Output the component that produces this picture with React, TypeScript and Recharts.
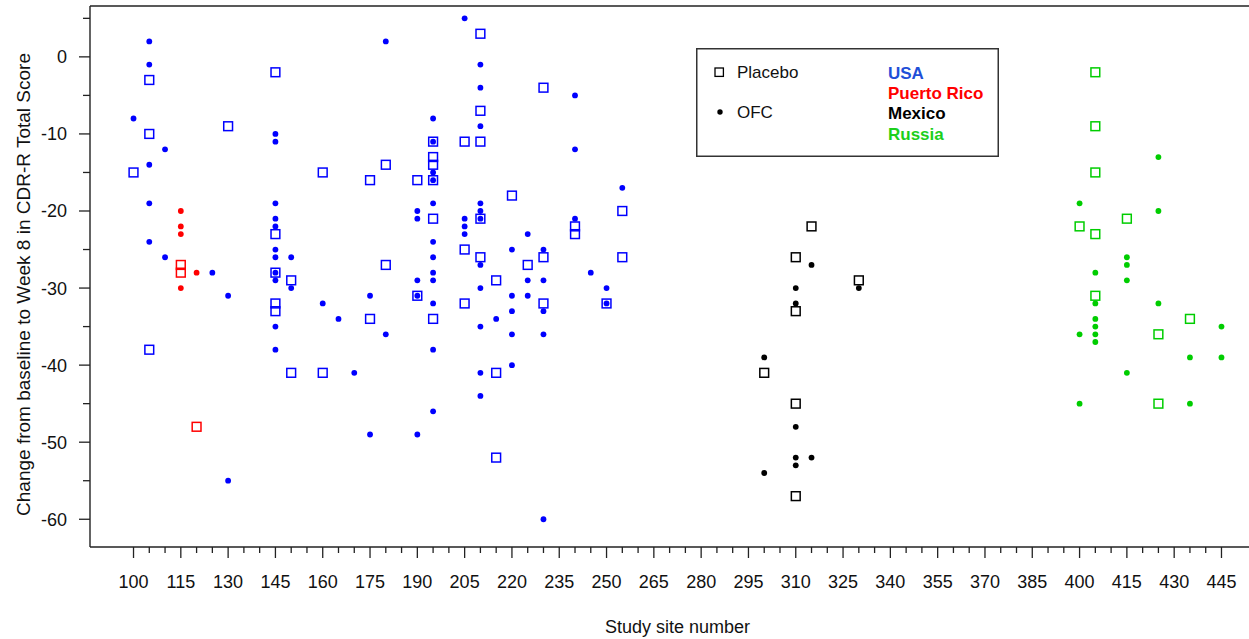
import React from "react";
import {
  ScatterChart,
  Scatter,
  XAxis,
  YAxis,
  Legend,
  ReferenceLine,
} from "recharts";

// each pair is [study site number, change from baseline to week 8]
const usaPlacebo: [number, number][] = [
  [100, -15], [105, -3], [105, -10], [105, -38], [130, -9],
  [145, -2], [145, -23], [145, -28], [145, -32], [145, -33],
  [150, -29], [150, -41], [160, -15], [160, -41], [175, -16], [175, -34],
  [180, -14], [180, -27], [190, -16], [190, -31],
  [195, -11], [195, -13], [195, -14], [195, -16], [195, -21], [195, -34],
  [205, -11], [205, -25], [205, -32],
  [210, 3], [210, -7], [210, -11], [210, -21], [210, -26],
  [215, -29], [215, -41], [215, -52], [220, -18], [225, -27],
  [230, -4], [230, -26], [230, -32], [240, -22], [240, -23],
  [250, -32], [255, -20], [255, -26],
];

const usaOfc: [number, number][] = [
  [100, -8], [105, 2], [105, -1], [105, -14], [105, -19], [105, -24],
  [110, -12], [110, -26], [125, -28], [130, -31], [130, -55],
  [145, -10], [145, -11], [145, -19], [145, -21], [145, -22], [145, -25],
  [145, -26], [145, -28], [145, -29], [145, -35], [145, -38],
  [150, -26], [150, -30], [160, -32], [165, -34], [170, -41],
  [175, -31], [175, -49], [180, 2], [180, -36],
  [190, -20], [190, -21], [190, -29], [190, -31], [190, -49],
  [195, -8], [195, -11], [195, -15], [195, -16], [195, -19], [195, -24],
  [195, -26], [195, -28], [195, -29], [195, -32], [195, -38], [195, -46],
  [205, 5], [205, -21], [205, -22], [205, -23],
  [210, -1], [210, -4], [210, -9], [210, -19], [210, -20], [210, -21],
  [210, -27], [210, -30], [210, -35], [210, -41], [210, -44],
  [215, -34], [220, -25], [220, -31], [220, -33], [220, -36], [220, -40],
  [225, -23], [225, -29], [225, -31],
  [230, -25], [230, -29], [230, -33], [230, -36], [230, -60],
  [240, -5], [240, -12], [240, -21], [245, -28], [250, -30], [250, -32],
  [255, -17],
];

const prPlacebo: [number, number][] = [[115, -27], [115, -28], [120, -48]];
const prOfc: [number, number][] = [
  [115, -20], [115, -22], [115, -23], [115, -30], [120, -28],
];

const mexPlacebo: [number, number][] = [
  [300, -41], [310, -26], [310, -33], [310, -45], [310, -57],
  [315, -22], [330, -29],
];
const mexOfc: [number, number][] = [
  [300, -39], [300, -54], [310, -30], [310, -32], [310, -48], [310, -52],
  [310, -53], [315, -27], [315, -52], [330, -30],
];

const rusPlacebo: [number, number][] = [
  [400, -22], [405, -2], [405, -9], [405, -15], [405, -23], [405, -31],
  [415, -21], [425, -36], [425, -45], [435, -34],
];
const rusOfc: [number, number][] = [
  [400, -19], [400, -36], [400, -45],
  [405, -28], [405, -32], [405, -34], [405, -35], [405, -36], [405, -37],
  [415, -26], [415, -27], [415, -29], [415, -41],
  [425, -13], [425, -20], [425, -32], [435, -39], [435, -45],
  [445, -35], [445, -39],
];

const SITE_TICKS = [
  100, 115, 130, 145, 160, 175, 190, 205, 220, 235, 250, 265,
  280, 295, 310, 325, 340, 355, 370, 385, 400, 415, 430, 445,
];
const SCORE_TICKS = [-60, -50, -40, -30, -20, -10, 0];

const SITE_DOMAIN: [number, number] = [86.2, 458.8];
const SCORE_DOMAIN: [number, number] = [-63.6, 6.6];

const COUNTRIES = [
  { name: "USA", color: "#0000ff", text: "#1f4fd8", placebo: usaPlacebo, ofc: usaOfc },
  { name: "Puerto Rico", color: "#ff0000", text: "#ff0000", placebo: prPlacebo, ofc: prOfc },
  { name: "Mexico", color: "#000000", text: "#000000", placebo: mexPlacebo, ofc: mexOfc },
  { name: "Russia", color: "#00cd00", text: "#1ccf1c", placebo: rusPlacebo, ofc: rusOfc },
];

const FONT = "'Liberation Sans', Arial, sans-serif";
const AXIS = "#222";

// minor ticks every 5 units between the labelled ones
const siteTicksAll = SITE_TICKS.flatMap((t, i) =>
  i < SITE_TICKS.length - 1 ? [t, t + 5, t + 10] : [t]
);
const scoreTicksAll = SCORE_TICKS.flatMap((t) => [t, t + 5]);

const toPoints = (rows: [number, number][]) =>
  rows.map(([site, change]) => ({ site, change }));

const squareShape = (color: string) => (props: any) => (
  <rect
    x={props.cx - 4.4}
    y={props.cy - 4.4}
    width={8.8}
    height={8.8}
    fill="none"
    stroke={color}
    strokeWidth={1.5}
  />
);

const dotShape = (color: string) => (props: any) => (
  <circle cx={props.cx} cy={props.cy} r={2.9} fill={color} />
);

const SiteTick = (props: any) => {
  const { x, y, payload } = props;
  const major = SITE_TICKS.includes(payload.value);
  return (
    <g>
      <line x1={x} y1={y} x2={x} y2={y + (major ? 11 : 6)} stroke={AXIS} strokeWidth={1.3} />
      {major && (
        <text x={x} y={y + 41} textAnchor="middle" fontSize={18} fontFamily={FONT} fill="#111">
          {payload.value}
        </text>
      )}
    </g>
  );
};

const ScoreTick = (props: any) => {
  const { x, y, payload } = props;
  const major = SCORE_TICKS.includes(payload.value);
  return (
    <g>
      <line x1={x - (major ? 11 : 7)} y1={y} x2={x} y2={y} stroke={AXIS} strokeWidth={1.3} />
      {major && (
        <text x={x - 23} y={y + 6.5} textAnchor="end" fontSize={18} fontFamily={FONT} fill="#111">
          {payload.value}
        </text>
      )}
    </g>
  );
};

const LegendBox = () => (
  <svg width={303} height={109} style={{ display: "block" }}>
    <rect x={0.75} y={0.75} width={301.5} height={107.5} fill="#fff" stroke="#333" strokeWidth={1.5} />
    <rect x={19} y={20} width={8.4} height={8.4} fill="none" stroke="#000" strokeWidth={1.3} />
    <text x={41} y={30} fontSize={17} fontFamily={FONT} fill="#111">Placebo</text>
    <circle cx={24} cy={64} r={2.7} fill="#000" />
    <text x={41} y={70} fontSize={17} fontFamily={FONT} fill="#111">OFC</text>
    {COUNTRIES.map((c, i) => (
      <text
        key={c.name}
        x={192}
        y={30.5 + i * 20.4}
        fontSize={17}
        fontWeight="bold"
        fontFamily={FONT}
        fill={c.text}
      >
        {c.name}
      </text>
    ))}
  </svg>
);

const yTitle = (props: any) => {
  const vb = props.viewBox ?? { x: 0, y: 6, width: 90, height: 541 };
  const cx = vb.x + 30;
  const cy = vb.y + vb.height / 2 + 8;
  return (
    <text
      x={cx}
      y={cy}
      transform={`rotate(-90, ${cx}, ${cy})`}
      textAnchor="middle"
      fontSize={19}
      fontFamily={FONT}
      fill="#111"
    >
      Change from baseline to Week 8 in CDR-R Total Score
    </text>
  );
};

const xTitle = (props: any) => {
  const vb = props.viewBox ?? { x: 90, y: 547, width: 1175, height: 92 };
  return (
    <text
      x={vb.x + vb.width / 2}
      y={vb.y + 86}
      textAnchor="middle"
      fontSize={18}
      fontFamily={FONT}
      fill="#111"
    >
      Study site number
    </text>
  );
};

const App = () => {
  return (
    <div
      style={{
        position: "fixed",
        left: 0,
        top: 0,
        width: 1249,
        height: 639,
        overflow: "hidden",
        background: "#fff",
      }}
    >
      <ScatterChart
        width={1300}
        height={639}
        margin={{ top: 6, right: 35, bottom: 0, left: 0 }}
      >
        <XAxis
          type="number"
          dataKey="site"
          domain={SITE_DOMAIN}
          ticks={siteTicksAll}
          interval={0}
          tickSize={0}
          tickMargin={0}
          tick={<SiteTick />}
          tickLine={false}
          axisLine={{ stroke: AXIS, strokeWidth: 1.4 }}
          height={92}
          label={xTitle}
        />
        <YAxis
          type="number"
          dataKey="change"
          domain={SCORE_DOMAIN}
          ticks={scoreTicksAll}
          interval={0}
          tickSize={0}
          tickMargin={0}
          tick={<ScoreTick />}
          tickLine={false}
          axisLine={{ stroke: AXIS, strokeWidth: 1.4 }}
          width={90}
          label={yTitle}
        />
        <ReferenceLine y={SCORE_DOMAIN[1]} stroke={AXIS} strokeWidth={1.4} />
        <ReferenceLine x={SITE_DOMAIN[1]} stroke={AXIS} strokeWidth={1.4} />
        <Legend
          layout="horizontal"
          verticalAlign="middle"
          align="center"
          content={<LegendBox />}
          wrapperStyle={{ left: 696, top: 48, width: 303, height: 109 }}
        />
        {COUNTRIES.map((c) => (
          <Scatter
            key={c.name + "-placebo"}
            name={c.name + " Placebo"}
            data={toPoints(c.placebo)}
            shape={squareShape(c.color)}
            isAnimationActive={false}
          />
        ))}
        {COUNTRIES.map((c) => (
          <Scatter
            key={c.name + "-ofc"}
            name={c.name + " OFC"}
            data={toPoints(c.ofc)}
            shape={dotShape(c.color)}
            isAnimationActive={false}
          />
        ))}
      </ScatterChart>
    </div>
  );
};

export default App;
